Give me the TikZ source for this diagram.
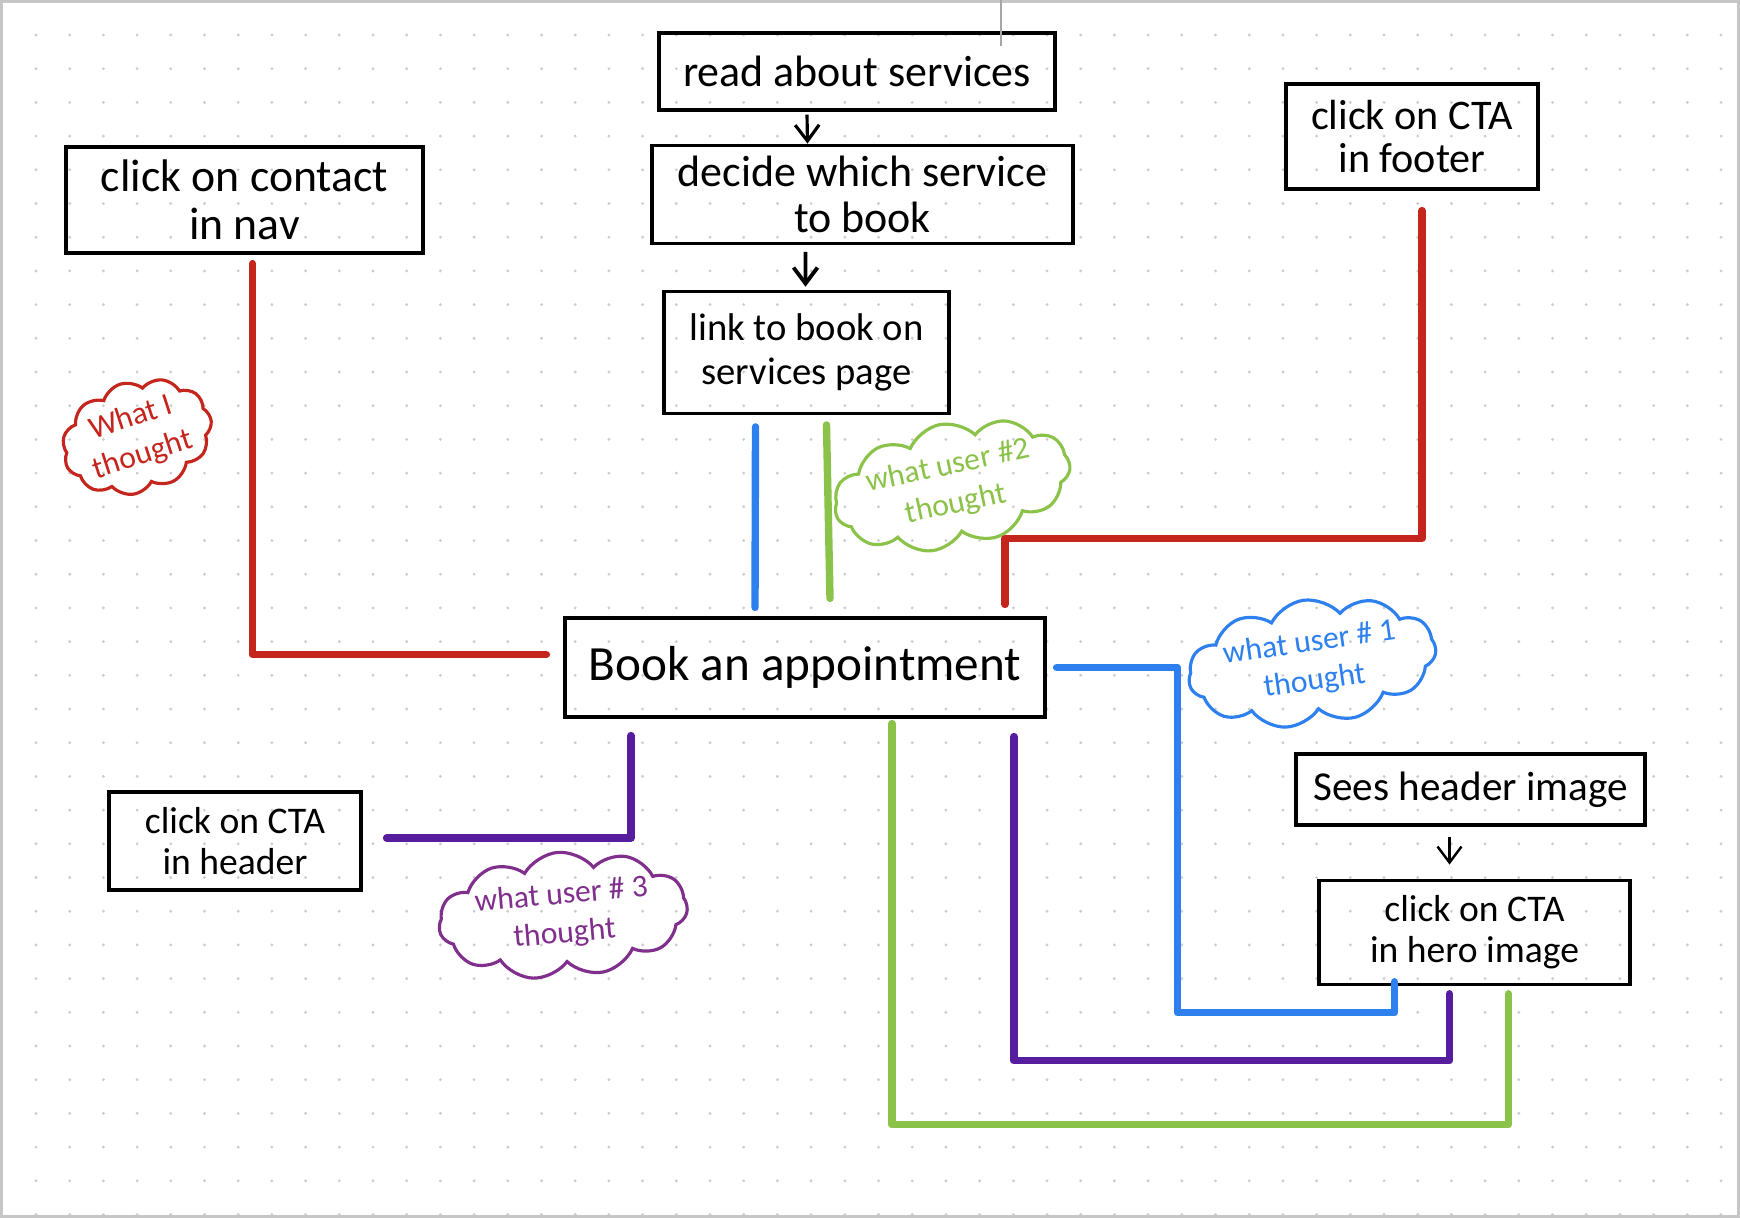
\documentclass[tikz,border=0pt]{standalone}
\usepackage{fontspec}
\setmainfont{Carlito}
\usepackage{tikz}
\usetikzlibrary{shapes.symbols, positioning, arrows.meta}
\definecolor{userred}{RGB}{196,38,30}
\definecolor{userblue}{RGB}{45,128,238}
\definecolor{usergreen}{RGB}{139,194,74}
\definecolor{userpurple}{RGB}{86,30,158}
\definecolor{thoughtpurple}{RGB}{128,48,140}
\definecolor{dotgray}{RGB}{205,205,205}
\newcommand{\boxfont}[2]{\fontsize{#1}{#2}\selectfont}

\begin{document}
\begin{tikzpicture}[
    > = {Straight Barb[length = 1.6mm, width = 2.4mm]},
    stepbox/.style = {
      rectangle, draw, line width = 0.9pt, inner sep = 0pt, align = center
    },
    thought/.style = {
      cloud, cloud puffs = 11, cloud puff arc = 110, cloud ignores aspect,
      draw, line width = 0.9pt, inner sep = 0pt, align = center,
      font = \boxfont{9}{11}
    },
    route/.style = {
      line width = 2.1pt, line cap = round, line join = round
    },
    flow/.style = {
      ->, line width = 0.9pt
    },
    ]

    \useasboundingbox  (0,0)  rectangle  (17.4,-12.18);
    % dotted paper
    \foreach \i in {0, ..., 50}
    \foreach \j in {0, ..., 35}
    \fill  [dotgray]  ({0.36 + 0.337*\i}, {-0.35 - 0.337*\j})  circle [radius = 0.016];
    \draw  [gray!45, line width = 0.8pt]  (0.015,-0.015)  rectangle  (17.385,-12.165);

    % draw steps
    \node  [stepbox, minimum width = 3.96cm, minimum height = 0.77cm, font = \boxfont{12.5}{13}]  (read)  at  (8.57,-0.715)  {read about services};
    \node  [stepbox, minimum width = 4.21cm, minimum height = 0.98cm, font = \boxfont{12.5}{13}]  (decide)  [below = 0.32cm of read, xshift = 0.55mm]  {decide which service\\to book};
    \node  [stepbox, minimum width = 2.85cm, minimum height = 1.22cm, font = \boxfont{11}{12.5}]  (link)  [below = 0.45cm of decide, xshift = -5.6mm]  {link to book on\\services page};
    \node  [stepbox, minimum width = 3.57cm, minimum height = 1.06cm, font = \boxfont{13}{13.5}]  (nav)  at  (2.445,-2.00)  {click on contact\\in nav};
    \node  [stepbox, minimum width = 2.52cm, minimum height = 1.05cm, font = \boxfont{12}{12.5}]  (footer)  at  (14.12,-1.365)  {click on CTA\\in footer};
    \node  [stepbox, minimum width = 4.80cm, minimum height = 0.99cm, font = \boxfont{14}{14}]  (book)  at  (8.05,-6.675)  {Book an appointment};
    \node  [stepbox, minimum width = 2.52cm, minimum height = 0.98cm, font = \boxfont{10.7}{11.5}]  (header)  at  (2.35,-8.41)  {click on CTA\\in header};
    \node  [stepbox, minimum width = 3.49cm, minimum height = 0.71cm, font = \boxfont{11.7}{12}]  (sees)  at  (14.705,-7.895)  {Sees header image};
    \node  [stepbox, minimum width = 3.11cm, minimum height = 1.04cm, font = \boxfont{10.7}{11.5}]  (hero)  [below = 0.52cm of sees, xshift = 0.4mm]  {click on CTA\\in hero image};

    % draw thoughts
    \node  [thought, userred, rotate = 18, minimum width = 1.45cm, minimum height = 1.05cm]  (wI)  at  (1.37,-4.37)  {What I\\thought};
    \node  [thought, usergreen, rotate = 12, minimum width = 2.0cm, minimum height = 0.8cm]  (wu2)  at  (9.52,-4.855)  {what user \#2\\thought};
    \node  [thought, userblue, rotate = 8, minimum width = 2.2cm, minimum height = 0.8cm]  (wu1)  at  (13.12,-6.625)  {what user \# 1\\thought};
    \node  [thought, thoughtpurple, rotate = 5, minimum width = 2.35cm, minimum height = 0.85cm]  (wu3)  at  (5.63,-9.15)  {what user \# 3\\thought};

    % draw arrows
    \draw  [flow]  ([xshift = -5mm, yshift = -0.3mm]read.south)  --  ([xshift = -5.5mm]decide.north);
    \draw  [flow, line width = 1.1pt]  ([xshift = -5.7mm, yshift = -0.7mm]decide.south)  --  ([xshift = -0.1mm, yshift = 0.3mm]link.north);
    \draw  [flow, line width = 0.7pt]  ([xshift = -2.1mm, yshift = -1mm]sees.south)  --  ([xshift = -2.5mm, yshift = 1.4mm]hero.north);
    \draw  [gray!70, line width = 0.4pt]  ([xshift = 14.4mm, yshift = -1.5mm]read.north)  --  ([xshift = 14.4mm, yshift = 3.3mm]read.north);

    % draw paths
    \draw  [route, userred]  ([xshift = 0.8mm, yshift = -0.9mm]nav.south)  |-  ([xshift = -1.7mm, yshift = 1.3mm]book.west);
    \draw  [route, userred]  ([xshift = 1mm, yshift = -2mm]footer.south)  --  ++(0,-3.28)  -|  ([xshift = 20mm, yshift = 1.2mm]book.north);
    \draw  [route, userblue]  ([xshift = -5.1mm, yshift = -1.2mm]link.south)  --  ([xshift = -5mm, yshift = 0.9mm]book.north);
    \draw  [route, usergreen]  ([xshift = 2mm, yshift = -1mm]link.south)  --  ([xshift = 2.5mm, yshift = 1.8mm]book.north);
    \draw  [route, userblue]  ([xshift = 1mm]book.east)  --  ++(1.21,0)  |-  ([xshift = -8mm, yshift = -2.7mm]hero.south)  --  ([xshift = -8mm, yshift = 0.4mm]hero.south);
    \draw  [route, userpurple]  ([xshift = 20.9mm, yshift = -1.8mm]book.south)  |-  ([xshift = -2.5mm, yshift = -7.5mm]hero.south)  --  ([xshift = -2.5mm, yshift = -0.8mm]hero.south);
    \draw  [route, usergreen]  ([xshift = 8.7mm, yshift = -0.5mm]book.south)  |-  ([xshift = 3.4mm, yshift = -13.9mm]hero.south)  --  ([xshift = 3.4mm, yshift = -0.8mm]hero.south);
    \draw  [route, userpurple]  ([xshift = 2.4mm, yshift = 0.3mm]header.east)  -|  ([xshift = -17.4mm, yshift = -1.7mm]book.south);
\end{tikzpicture}
\end{document}
